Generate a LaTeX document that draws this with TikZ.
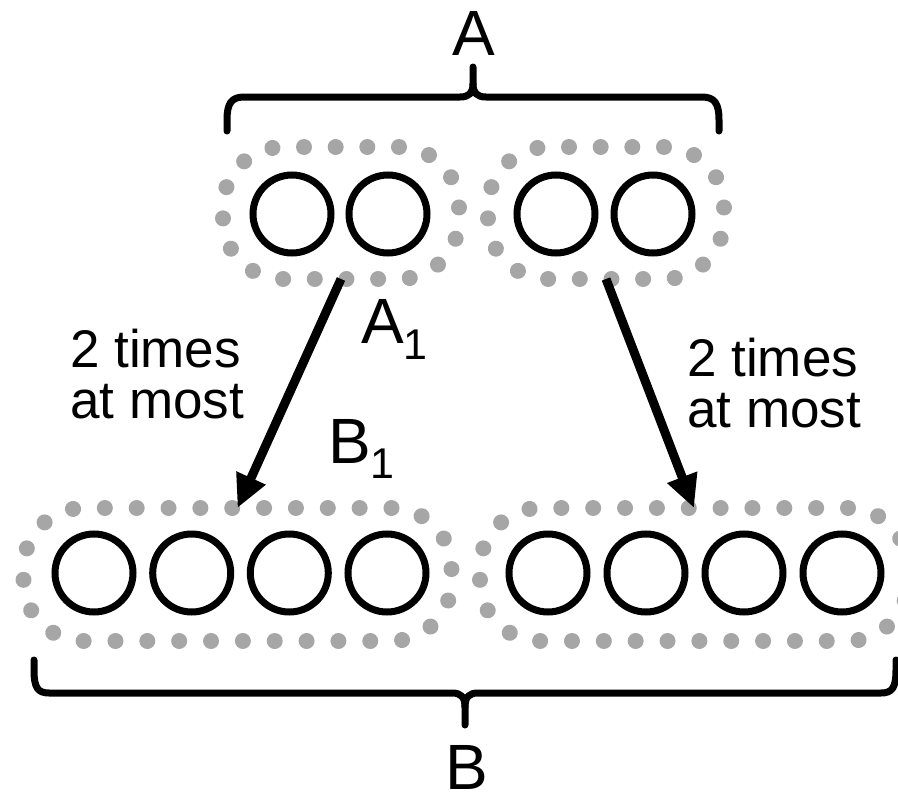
\documentclass[tikz,border=0pt]{standalone}
\usepackage{fontspec}
\setmainfont{Liberation Sans}
\usetikzlibrary{arrows.meta}
\definecolor{dotgray}{RGB}{166,166,166}
\begin{document}
\begin{tikzpicture}[x=1pt,y=-1pt,
  ring/.style={circle, draw=black, line width=7pt, minimum size=78pt, inner sep=0pt, outer sep=0pt},
  pairgroup/.style={draw=dotgray, line width=16pt, line cap=round,
    dash pattern=on 0.01pt off 31.65pt, rounded corners=60pt,
    minimum width=236pt, minimum height=132pt, inner sep=0pt, outer sep=0pt},
  quadgroup/.style={pairgroup, dash pattern=on 0.01pt off 31.84pt,
    minimum width=428pt, minimum height=133pt},
  flow/.style={line width=9pt, -{Triangle[length=33pt,width=30pt]}},
  brace/.style={line width=7pt, line cap=round, line join=round},
  big/.style={font=\fontsize{64}{64}\selectfont, inner sep=0pt},
  note/.style={font=\fontsize{53}{51}\selectfont, align=left, inner sep=0pt, anchor=base west},
]
\clip (0,0) rectangle (898,795);

% dotted groups
\node[pairgroup] (ta) at (341,213) {};
\node[pairgroup] (tb) at (606,213) {};
\node[quadgroup] (ba) at (237.5,574.5) {};
\node[quadgroup] (bb) at (694,574.5) {};

% elements
\node[ring] (ta1) at (292,214) {};
\node[ring] (ta2) at (388,214) {};
\node[ring] (tb1) at (556,214) {};
\node[ring] (tb2) at (653,214) {};
\node[ring] (ba1) at (94,573) {};
\node[ring] (ba2) at (191.7,573) {};
\node[ring] (ba3) at (289.3,573) {};
\node[ring] (ba4) at (387,573) {};
\node[ring] (bb1) at (548,573) {};
\node[ring] (bb2) at (646,573) {};
\node[ring] (bb3) at (744,573) {};
\node[ring] (bb4) at (842,573) {};

% mappings
\draw[flow] (ta.south) -- (ba.north);
\draw[flow] (tb.south) -- (bb.north);

% braces
\draw[brace] (227,131) -- (227,120) .. controls (227,104) and (231,97) .. (244,97)
  -- (460,97) .. controls (469,97) and (473,93) .. (473,84) -- (473,67);
\draw[brace] (719,131) -- (719,120) .. controls (719,104) and (715,97) .. (702,97)
  -- (486,97) .. controls (477,97) and (473,93) .. (473,84);
\draw[brace] (34,660) -- (34,670) .. controls (34,688) and (38,693) .. (49,693)
  -- (452,693) .. controls (461,693) and (465,697) .. (465,707) -- (465,725);
\draw[brace] (896,660) -- (896,670) .. controls (896,688) and (892,693) .. (881,693)
  -- (478,693) .. controls (469,693) and (465,697) .. (465,707);

% labels
\node[big, anchor=base] (labA) at (474,55) {A};
\node[big, anchor=base] (labB) at (467,789) {B};
\node[big, anchor=base west] (labA1) at (361,343) {A\raisebox{-16pt}{\fontsize{43}{43}\selectfont 1}};
\node[big, anchor=base west] (labB1) at (328,463) {B\raisebox{-15pt}{\fontsize{43}{43}\selectfont 1}};
\node[note] (noteL) at (70,418) {2 times\\at most};
\node[note] (noteR) at (687,427) {2 times\\at most};
\end{tikzpicture}
\end{document}
